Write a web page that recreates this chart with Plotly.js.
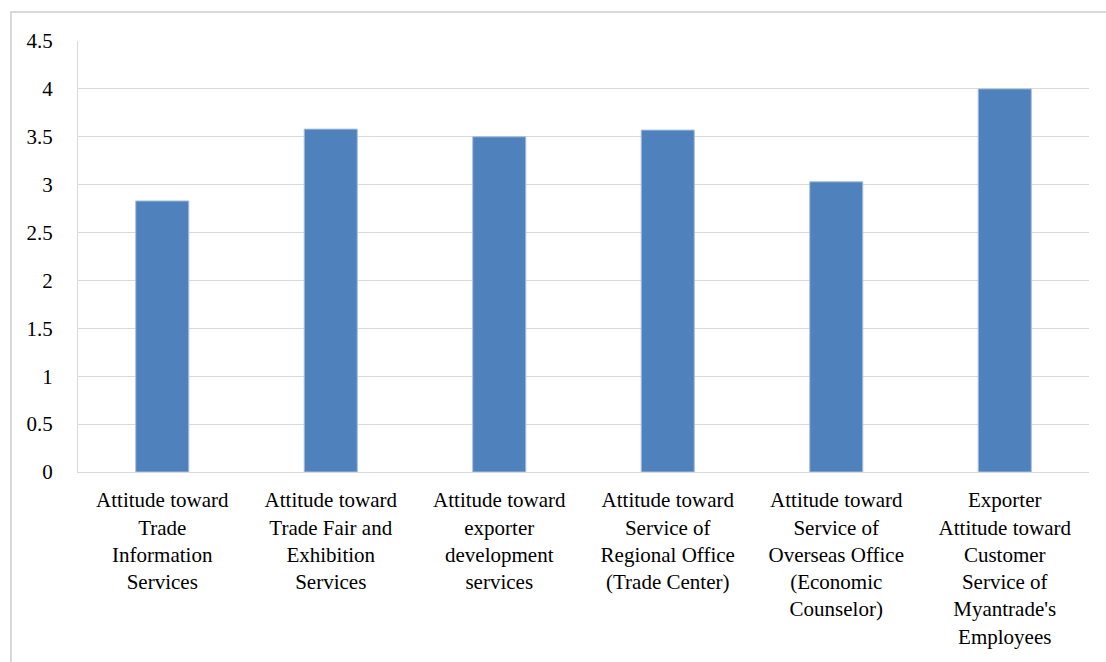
<!DOCTYPE html>
<html>
<head>
<meta charset="utf-8">
<script src="https://cdn.plot.ly/plotly-3.0.1.min.js"></script>
<style>
html,body{margin:0;padding:0;background:#fff;overflow:hidden;}
#frame{position:absolute;left:10px;top:11px;width:1120px;height:700px;border:2px solid #d9d9d9;box-sizing:border-box;}
#chart{position:absolute;left:0;top:0;width:1106px;height:662px;}
#chart .xtick text, #chart .ytick text, #chart .xtick tspan, #chart .ytick tspan {font-family: "Liberation Serif", "Times New Roman", serif !important;}
</style>
</head>
<body>
<div id="frame"></div>
<div id="chart"></div>
<script>
const categories = [
  "Attitude toward<br>Trade<br>Information<br>Services",
  "Attitude toward<br>Trade Fair and<br>Exhibition<br>Services",
  "Attitude toward<br>exporter<br>development<br>services",
  "Attitude toward<br>Service of<br>Regional Office<br>(Trade Center)",
  "Attitude toward<br>Service of<br>Overseas Office<br>(Economic<br>Counselor)",
  "Exporter<br>Attitude toward<br>Customer<br>Service of<br>Myantrade's<br>Employees"
];
const values = [2.83, 3.58, 3.50, 3.57, 3.03, 4.00];
const yTicks = [0, 0.5, 1, 1.5, 2, 2.5, 3, 3.5, 4, 4.5];
const yTickText = ["0", "0.5", "1", "1.5", "2", "2.5", "3", "3.5", "4", "4.5"];

Plotly.newPlot('chart', [{
  type: 'bar',
  x: categories,
  y: values,
  marker: {color: '#4F81BD', line: {color: '#A7BFDE', width: 1}},
  hoverinfo: 'skip'
}], {
  width: 1106, height: 662,
  paper_bgcolor: 'rgba(0,0,0,0)',
  plot_bgcolor: 'rgba(0,0,0,0)',
  margin: {l: 78, r: 17, t: 41, b: 190},
  bargap: 0.685,
  showlegend: false,
  font: {family: 'Liberation Serif', size: 21, color: '#000'},
  xaxis: {
    type: 'category',
    showgrid: false,
    showline: true, linecolor: '#d9d9d9', linewidth: 1,
    ticks: '', tickangle: 0, ticklabelstandoff: 9,
    tickfont: {family: 'Liberation Serif', size: 21, color: '#000'},
    automargin: false
  },
  yaxis: {
    range: [0, 4.5],
    tickvals: yTicks, ticktext: yTickText,
    showgrid: true, gridcolor: '#d9d9d9', gridwidth: 1,
    zeroline: false,
    showline: true, linecolor: '#d9d9d9', linewidth: 1,
    ticks: '', ticklabelstandoff: 20,
    tickfont: {family: 'Liberation Serif', size: 21, color: '#000'},
    automargin: false
  }
}, {staticPlot: true, displayModeBar: false});
</script>
</body>
</html>
